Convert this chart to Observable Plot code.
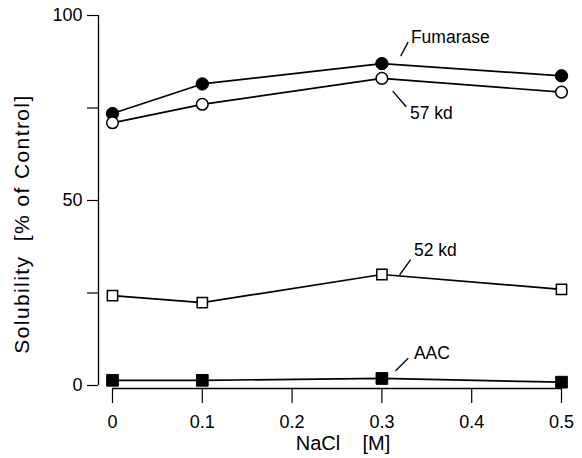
<!DOCTYPE html>
<html>
<head>
<meta charset="utf-8">
<script src="https://cdn.jsdelivr.net/npm/d3@7"></script>
<script src="https://cdn.jsdelivr.net/npm/@observablehq/plot@0.6"></script>
<style>
  html, body { margin: 0; padding: 0; background: #fff; }
  #chart svg { display: block; }
</style>
</head>
<body>
<div id="chart"></div>
<script>
// ---- data ----
const nacl = [0, 0.1, 0.3, 0.5];
const fumarase = [73.5, 81.5, 87.0, 83.7];
const kd57 = [71.0, 76.0, 83.0, 79.3];
const kd52 = [24.3, 22.4, 30.0, 26.0];
const aac = [1.4, 1.4, 1.9, 0.9];
const seriesNames = ["Fumarase", "57 kd", "52 kd", "AAC"];
const xTicks = [0, 0.1, 0.2, 0.3, 0.4, 0.5];
const yTicks = [0, 25, 50, 75, 100];
const yTickLabels = ["0", "", "50", "", "100"];
const xTitle = "NaCl\u00a0\u00a0\u00a0\u00a0[M]";
const yTitle = "Solubility\u00a0\u00a0[% of Control]";

const seriesValues = [fumarase, kd57, kd52, aac];
const rows = [];
seriesNames.forEach((s, k) => nacl.forEach((x, i) => rows.push({series: s, x, y: seriesValues[k][i]})));

// label anchored at the x = 0.3 point of each series
const labelRows = seriesNames.map((s, k) => ({series: s, x: nacl[2], y: seriesValues[k][2]}));

// layout (pixels) for labels and leader lines, per series
const layout = {
  "Fumarase": {tdx: 29, tdy: -26, ldx: 19, ldy: -8, len: 15, rot: 28},
  "57 kd":    {tdx: 28, tdy: 35,  ldx: 11, ldy: 13, len: 20, rot: 139},
  "52 kd":    {tdx: 32, tdy: -24, ldx: 18, ldy: 0,  len: 18, rot: 36},
  "AAC":      {tdx: 32, tdy: -25, ldx: 14, ldy: -8, len: 17, rot: 45}
};

const font = "'Liberation Sans', Arial, Helvetica, sans-serif";
const black = "#000";

const marks = [
  // y axis line
  Plot.ruleX([0], {y1: 0, y2: 100, dx: -14, stroke: black, strokeWidth: 1.3}),
  // x axis line
  Plot.ruleY([0], {x1: 0, x2: 0.5, dy: 3, stroke: black, strokeWidth: 1.5}),
  Plot.axisY({ticks: yTicks, tickFormat: d => yTickLabels[yTicks.indexOf(d)], tickSize: 11, tickPadding: 5,
              fontSize: 18, label: null, stroke: black, strokeWidth: 1.2}),
  Plot.axisX({ticks: xTicks, tickFormat: d => d === 0 ? "0" : d.toFixed(1), tickSize: 15, tickPadding: 12,
              fontSize: 18, label: null, stroke: black, strokeWidth: 1.2}),
  Plot.text([xTitle], {frameAnchor: "bottom", textAnchor: "middle", lineAnchor: "middle", dx: 13, dy: 55, fontSize: 20, fill: black}),
  Plot.text([yTitle], {frameAnchor: "left", textAnchor: "middle", lineAnchor: "middle", rotate: -90, dx: -76, dy: 22,
                       fontSize: 21, fill: black}),
  Plot.line(rows, {x: "x", y: "y", z: "series", stroke: black, strokeWidth: 1.7}),
  Plot.dot(rows.filter(d => d.series === "Fumarase"), {x: "x", y: "y", r: 6.2, fill: black, stroke: black, strokeWidth: 1}),
  Plot.dot(rows.filter(d => d.series === "57 kd"), {x: "x", y: "y", r: 5.8, fill: "white", stroke: black, strokeWidth: 1.5}),
  Plot.dot(rows.filter(d => d.series === "52 kd"), {x: "x", y: "y", r: 5.8, symbol: "square", fill: "white", stroke: black, strokeWidth: 1.5}),
  Plot.dot(rows.filter(d => d.series === "AAC"), {x: "x", y: "y", r: 6.6, symbol: "square", fill: black, stroke: black, strokeWidth: 1}),
];

for (const d of labelRows) {
  const L = layout[d.series];
  marks.push(Plot.text([d], {x: "x", y: "y", text: "series", dx: L.tdx, dy: L.tdy, textAnchor: "start", fontSize: 17.5, fill: black}));
  marks.push(Plot.vector([d], {x: "x", y: "y", dx: L.ldx, dy: L.ldy, length: L.len, rotate: L.rot, anchor: "start",
                               r: 0, stroke: black, strokeWidth: 1.3}));
}

const chart = Plot.plot({
  width: 582,
  height: 458,
  marginLeft: 98,
  marginRight: 21,
  marginTop: 15,
  marginBottom: 70,
  style: {fontFamily: font, color: black, background: "white", overflow: "visible"},
  x: {domain: [0, 0.5], insetLeft: 14},
  y: {domain: [0, 100], insetBottom: 3},
  marks
});
// letter spacing for the y title
chart.querySelectorAll("text").forEach(t => {
  if (t.textContent === yTitle) t.setAttribute("letter-spacing", "1.4");
});
document.getElementById("chart").appendChild(chart);
</script>
</body>
</html>
